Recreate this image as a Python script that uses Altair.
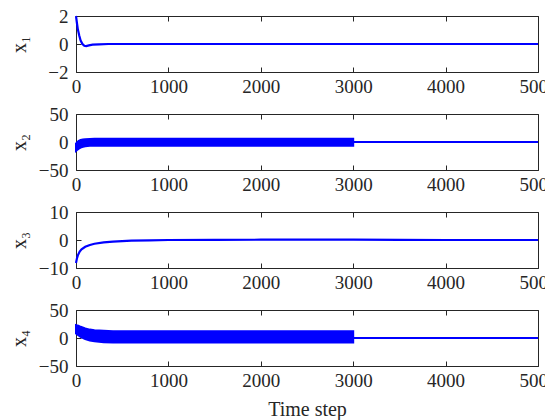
import altair as alt
import pandas as pd

# ---------------- data ----------------
t_ticks = [0, 1000, 2000, 3000, 4000, 5000]

# x1 : single decaying curve
x1_t = [0, 10, 20, 35, 50, 70, 90, 110, 140, 180, 250, 350, 500, 1000, 2000, 3000, 4000, 5000]
x1_v = [2.0, 1.5, 1.05, 0.6, 0.25, 0.0, -0.13, -0.15, -0.1, -0.05, -0.02, 0.0, 0.0, 0.0, 0.0, 0.0, 0.0, 0.0]

# x2 : oscillating band (envelope) until 3000, then flat line
x2_band_t = [0, 15, 30, 50, 75, 100, 150, 200, 3000]
x2_band_hi = [-3, 0, 2, 3.5, 4.5, 5, 5.5, 6, 6]
x2_band_lo = [-16, -14, -12, -10, -8.5, -7.5, -6.5, -6.5, -6.5]
x2_t = [3000, 5000]
x2_v = [0, 0]

# x3 : single rising curve
x3_t = [0, 10, 20, 40, 60, 100, 150, 200, 300, 400, 600, 800, 1000, 1500, 2000, 2500, 3000, 3500, 4000, 5000]
x3_v = [-8.2, -6.6, -5.5, -4.1, -3.3, -2.4, -1.8, -1.35, -0.85, -0.55, -0.25, -0.1, 0.0, 0.05, 0.1, 0.12, 0.1, 0.05, 0.0, 0.0]

# x4 : oscillating band (envelope) until 3000, then flat line
x4_band_t = [0, 25, 50, 100, 150, 200, 300, 400, 3000]
x4_band_hi = [23, 22, 20, 17, 15, 14, 13, 12, 12]
x4_band_lo = [8, 5, 2, -2, -4.5, -6, -7.5, -8, -8]
x4_t = [3000, 5000]
x4_v = [0, 0]

# ---------------- style ----------------
BLUE = "#0000ff"
AX = "#262626"
FONT = "Liberation Serif"
W, H = 462, 56
FS = 19


def panel(ytitle, ydom, yticks, line_t, line_v, band=None, xtitle=None):
    xs = alt.Scale(domain=[0, 5000], nice=False)
    ys = alt.Scale(domain=ydom, nice=False)
    frame = pd.DataFrame({"t": [0, 5000], "v": ydom})

    bottom_kw = dict(values=t_ticks, orient="bottom", offset=-5, tickSize=5,
                     domain=False, grid=False, labelPadding=5, format="d",
                     labelFontSize=FS, labelFont=FONT, labelColor=AX, tickColor=AX,
                     labelFlush=False)
    if xtitle:
        bottom_kw.update(title=xtitle, titleFont=FONT, titleFontSize=20,
                         titleFontWeight="normal", titleColor=AX, titlePadding=9)
    else:
        bottom_kw.update(title=None)
    left_axis = alt.Axis(values=yticks, orient="left", offset=-5, tickSize=5,
                         domain=False, grid=False, labelPadding=8,
                         labelFontSize=FS, labelFont=FONT, labelColor=AX, tickColor=AX,
                         title=ytitle, titleFont=FONT, titleFontSize=20,
                         titleFontWeight="normal", titleColor=AX,
                         titleAngle=270, titleX=-56, titleY=H / 2,
                         titleAlign="center", titleBaseline="alphabetic",
                         labelFlush=False)

    axes_a = alt.Chart(frame).mark_point(opacity=0).encode(
        x=alt.X("t:Q", scale=xs, axis=alt.Axis(**bottom_kw)),
        y=alt.Y("v:Q", scale=ys, axis=left_axis),
    )
    axes_b = alt.Chart(frame).mark_point(opacity=0).encode(
        x=alt.X("t:Q", scale=xs, axis=alt.Axis(values=t_ticks, orient="top", offset=-5,
                                                 tickSize=5, domain=False, grid=False,
                                                 labels=False, title=None, tickColor=AX)),
        y=alt.Y("v:Q", scale=ys, axis=alt.Axis(values=yticks, orient="right", offset=-5,
                                                 tickSize=5, domain=False, grid=False,
                                                 labels=False, title=None, tickColor=AX)),
    )

    layers = [axes_a, axes_b]
    if band is not None:
        bt, bh, bl = band
        bdf = pd.DataFrame({"t": bt, "hi": bh, "lo": bl})
        layers.append(
            alt.Chart(bdf).mark_area(color=BLUE, stroke=BLUE, strokeWidth=2, opacity=1).encode(
                x=alt.X("t:Q", scale=xs, axis=None),
                y=alt.Y("hi:Q", scale=ys, axis=None),
                y2="lo:Q",
            )
        )
    ldf = pd.DataFrame({"t": line_t, "v": line_v})
    layers.append(
        alt.Chart(ldf).mark_line(color=BLUE, strokeWidth=2.2).encode(
            x=alt.X("t:Q", scale=xs, axis=None),
            y=alt.Y("v:Q", scale=ys, axis=None),
        )
    )
    return alt.layer(*layers).resolve_axis(x="independent", y="independent").properties(
        width=W, height=H)


p1 = panel("x\u2081", [-2, 2], [-2, 0, 2], x1_t, x1_v)
p2 = panel("x\u2082", [-50, 50], [-50, 0, 50], x2_t, x2_v,
           band=(x2_band_t, x2_band_hi, x2_band_lo))
p3 = panel("x\u2083", [-10, 10], [-10, 0, 10], x3_t, x3_v)
p4 = panel("x\u2084", [-50, 50], [-50, 0, 50], x4_t, x4_v,
           band=(x4_band_t, x4_band_hi, x4_band_lo), xtitle="Time step")

chart = alt.vconcat(p1, p2, p3, p4, spacing=7).properties(
    padding={"left": 0, "top": -2, "right": -13, "bottom": 0}, background="white"
).configure_view(stroke=AX, strokeWidth=1)

chart.save("out.html", embed_options={"renderer": "svg", "actions": False})
